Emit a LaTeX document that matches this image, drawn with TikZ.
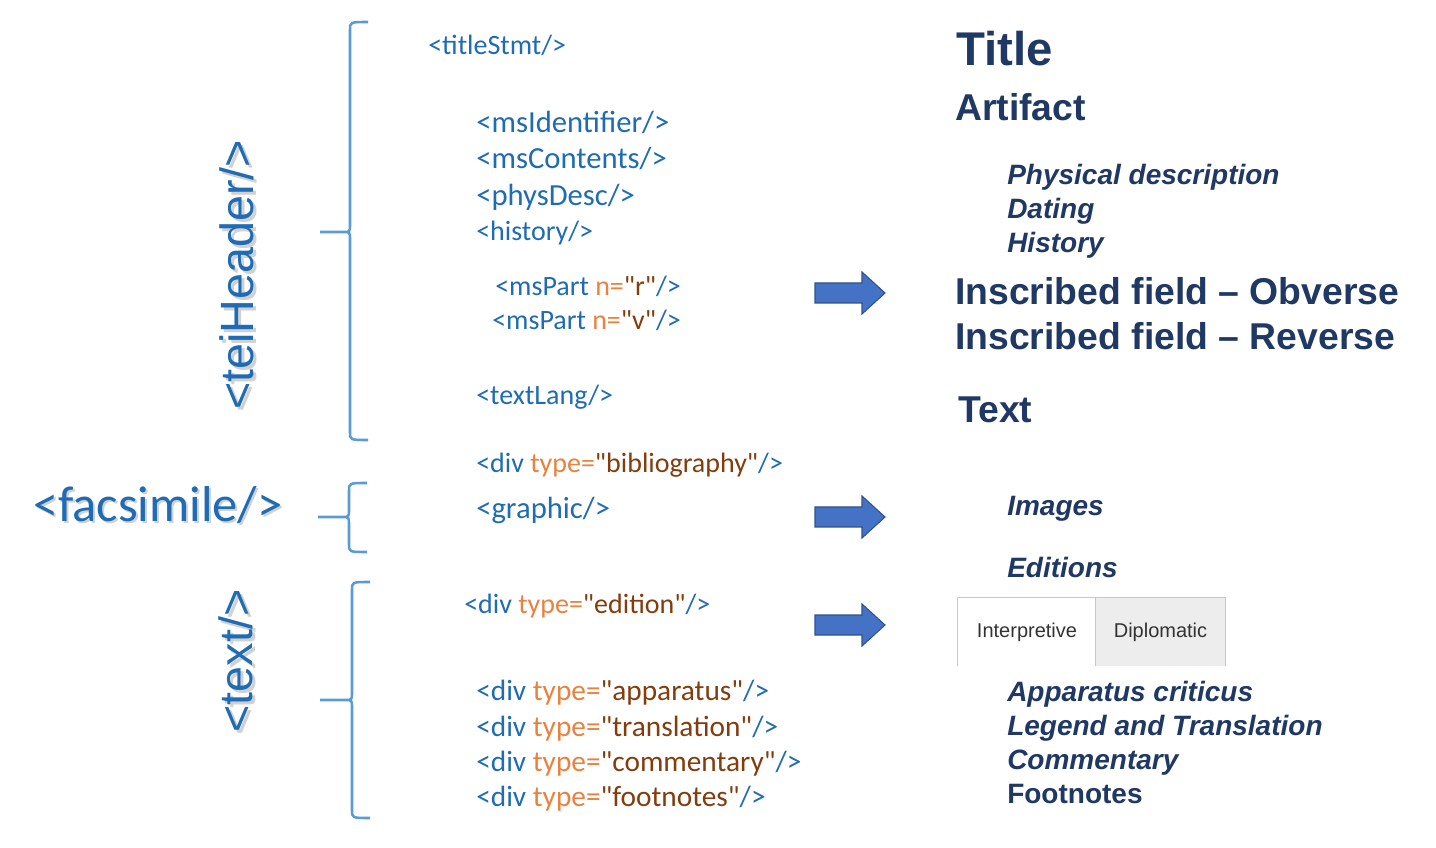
\documentclass[tikz,border=0pt]{standalone}
\usepackage{xcolor}
\usepackage{fontspec}
\setmainfont{Carlito}
\newfontfamily\arialfont{Liberation Sans}
\usepackage{tikz}
\usetikzlibrary{positioning}
\definecolor{xmlblue}{HTML}{1F6CB4}
\definecolor{xmlattr}{HTML}{E9823F}
\definecolor{xmlval}{HTML}{843C0C}
\definecolor{navy}{HTML}{1F3864}
\definecolor{bracecol}{HTML}{5B9BD5}
\definecolor{arrowfill}{HTML}{4472C4}
\definecolor{arrowline}{HTML}{2F528F}
\newcommand{\xattr}[1]{\textcolor{xmlattr}{#1}}
\newcommand{\xval}[1]{\textcolor{xmlval}{\textquotedbl#1\textquotedbl}}
\tikzstyle{xml}      = [anchor=base west, inner sep=0pt, text=xmlblue,
                        font=\fontsize{23}{27}\selectfont]
\tikzstyle{xmlsm}    = [xml, font=\fontsize{21}{25}\selectfont]
\tikzstyle{xmlmd}    = [xml, font=\fontsize{22}{26}\selectfont]
\tikzstyle{headbig}  = [anchor=base west, inner sep=0pt, text=navy,
                        font=\arialfont\bfseries\fontsize{28}{32}\selectfont]
\tikzstyle{headsub}  = [anchor=base west, inner sep=0pt, text=navy,
                        font=\arialfont\bfseries\itshape\fontsize{21}{25}\selectfont]
\tikzstyle{vlabel}   = [inner sep=0pt, text=xmlblue, rotate=90,
                        font=\arialfont\fontsize{35}{40}\selectfont]
\tikzstyle{shade}    = [text=black!18]
\tikzstyle{brace}    = [draw=bracecol, line width=1.9pt]
\tikzstyle{blockarrow} = [fill=arrowfill, draw=arrowline, line width=0.8pt]
\tikzstyle{tab}      = [minimum width=103.5pt, minimum height=51pt, inner sep=0pt,
                        text=black!80, font=\arialfont\fontsize{15}{18}\selectfont]
\tikzstyle{tabline}  = [draw=black!22, line width=1pt]

\begin{document}
\begin{tikzpicture}[x=0.75pt, y=-0.75pt]
  \fill[white] (0,0) rectangle (1436,848);
  \useasboundingbox (0,0) rectangle (1436,848);

  % section labels on the left
  \node[vlabel, shade] (teish) at (240,278) {<teiHeader/>};
  \node[vlabel] (tei) at (237,275) {<teiHeader/>};
  \node[vlabel, shade] (textsh) at (239,664) {<text/>};
  \node[vlabel] (textlab) at (236,661) {<text/>};
  \node[anchor=base west, inner sep=0pt, text=black!18,
        font=\fontsize{37.8}{42}\selectfont] (facsh) at (35,524) {<facsimile/>};
  \node[anchor=base west, inner sep=0pt, text=xmlblue,
        font=\fontsize{37.8}{42}\selectfont] (facs) at (33,522) {<facsimile/>};

  % braces
  \foreach \bx/\btop/\bmid/\bbot/\btip in {350/22/232/440/320,
                                           349/483/517/552/318,
                                           352/582/700/818/320}
    \draw[brace] (\bx+18,\btop) .. controls (\bx,\btop) .. (\bx,\btop+8)
      -- (\bx,\bmid-8) .. controls (\bx,\bmid) .. (\bx-7,\bmid) -- (\btip,\bmid)
      (\bx-7,\bmid) .. controls (\bx,\bmid) .. (\bx,\bmid+8)
      -- (\bx,\bbot-8) .. controls (\bx,\bbot) .. (\bx+18,\bbot);

  % TEI elements
  \node[xmlsm] (title)  at (428,55)  {<titleStmt/>};
  \node[xml]   (msid)   at (476,133) {<msIdentifier/>};
  \node[xml]   (mscont) at (476,169) {<msContents/>};
  \node[xml]   (phys)   at (476,206) {<physDesc/>};
  \node[xmlsm] (hist)   at (476,241) {<history/>};
  \node[xmlsm] (partr)  at (495,296) {<msPart \xattr{n=}\xval{r}/>};
  \node[xmlsm] (partv)  at (492,330) {<msPart \xattr{n=}\xval{v}/>};
  \node[xmlsm] (lang)   at (476,405) {<textLang/>};
  \node[xmlsm] (bibl)   at (476,473) {<div \xattr{type=}\xval{bibliography}/>};
  \node[xml]   (graph)  at (476,519) {<graphic/>};
  \node[xmlsm] (edit)   at (464,613) {<div \xattr{type=}\xval{edition}/>};
  \node[xmlmd] (appar)  at (476,700) {<div \xattr{type=}\xval{apparatus}/>};
  \node[xmlmd] (transl) at (476,736) {<div \xattr{type=}\xval{translation}/>};
  \node[xmlmd] (comm)   at (476,771) {<div \xattr{type=}\xval{commentary}/>};
  \node[xmlmd] (foot)   at (476,806) {<div \xattr{type=}\xval{footnotes}/>};

  % block arrows
  \foreach \ay in {293,517,625}
    \draw[blockarrow] (815,\ay-10) -- (862,\ay-10) -- (862,\ay-21) -- (885,\ay)
      -- (862,\ay+21) -- (862,\ay+10) -- (815,\ay+10) -- cycle;

  % edition display
  \node[headbig, font=\arialfont\bfseries\fontsize{35.5}{40}\selectfont]
        (rtitle) at (956,66) {Title};
  \node[headbig] (rart)  at (955,121) {Artifact};
  \node[headsub] (rphys) at (1007,185) {Physical description};
  \node[headsub] (rdate) at (1007,219) {Dating};
  \node[headsub] (rhist) at (1007,253) {History};
  \node[headbig] (robv)  at (955,305) {Inscribed field \textendash{} Obverse};
  \node[headbig] (rrev)  at (955,350) {Inscribed field \textendash{} Reverse};
  \node[headbig] (rtext) at (958,423) {Text};
  \node[headsub] (rimg)  at (1007,516) {Images};
  \node[headsub] (redit) at (1007,577) {Editions};
  \node[headsub] (rapp)  at (1007,701) {Apparatus criticus};
  \node[headsub] (rleg)  at (1007,735) {Legend and Translation};
  \node[headsub] (rcom)  at (1007,769) {Commentary};
  \node[headsub, font=\arialfont\bfseries\fontsize{21}{25}\selectfont]
        (rfoot) at (1007,803) {Footnotes};

  % tabs
  \node[tab] (interp) at (1027,632) {Interpretive};
  \node[tab, fill=black!7, minimum width=96.75pt] (diplo) at (1160.5,632) {Diplomatic};
  \draw[tabline] (interp.south west) -- (interp.north west) -- (diplo.north east)
    -- (diplo.south east);
  \draw[tabline] (diplo.north west) -- (diplo.south west);
\end{tikzpicture}
\end{document}
